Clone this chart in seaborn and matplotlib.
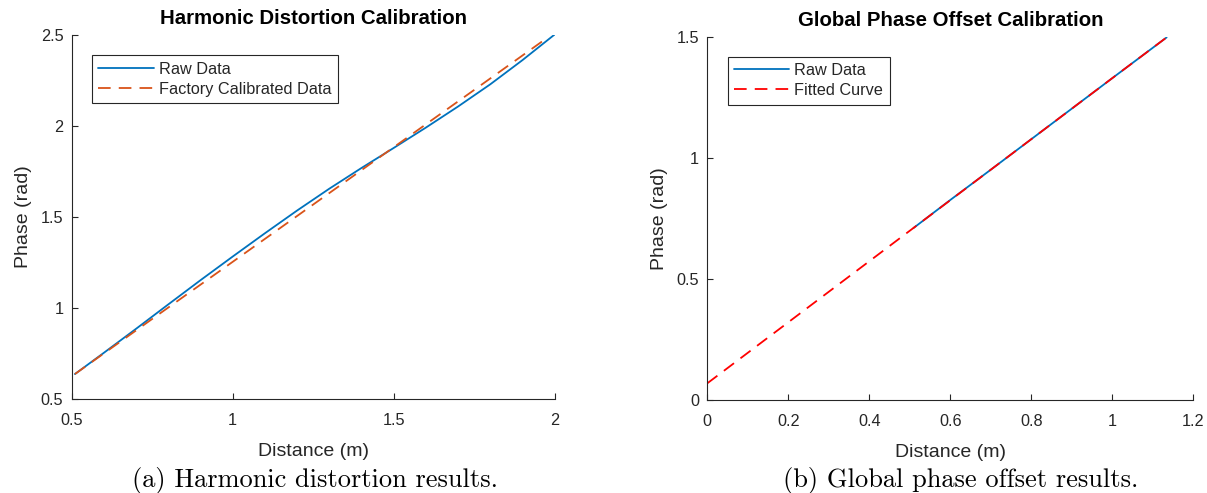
import matplotlib
matplotlib.use("Agg")
import matplotlib.pyplot as plt
import seaborn as sns
import pandas as pd

# ---- data ----
hd_raw_x = [0.51, 0.60, 0.70, 0.80, 0.90, 1.00, 1.10, 1.20, 1.30, 1.40, 1.50, 1.60, 1.70, 1.80, 1.90, 2.00]
hd_raw_y = [0.637, 0.754, 0.886, 1.020, 1.153, 1.283, 1.411, 1.536, 1.656, 1.770, 1.880, 1.992, 2.108, 2.230, 2.363, 2.504]
hd_fac_x = [0.51, 0.75, 1.00, 1.25, 1.50, 1.75, 1.974]
hd_fac_y = [0.637, 0.940, 1.254, 1.569, 1.884, 2.199, 2.482]

gp_raw_x = [0.509, 0.60, 0.70, 0.80, 0.90, 1.00, 1.134]
gp_raw_y = [0.710, 0.826, 0.951, 1.077, 1.203, 1.329, 1.497]
gp_fit_x = [0.0, 0.25, 0.50, 0.75, 1.00, 1.134]
gp_fit_y = [0.069, 0.384, 0.699, 1.014, 1.329, 1.497]

left_xticks = [0.5, 1, 1.5, 2]
left_xticklabels = ["0.5", "1", "1.5", "2"]
left_yticks = [0.5, 1, 1.5, 2, 2.5]
left_yticklabels = ["0.5", "1", "1.5", "2", "2.5"]
right_xticks = [0, 0.2, 0.4, 0.6, 0.8, 1.0, 1.2]
right_xticklabels = ["0", "0.2", "0.4", "0.6", "0.8", "1", "1.2"]
right_yticks = [0, 0.5, 1, 1.5]
right_yticklabels = ["0", "0.5", "1", "1.5"]

titles = ["Harmonic Distortion Calibration", "Global Phase Offset Calibration"]
captions = ["(a) Harmonic distortion results.", "(b) Global phase offset results."]

BLUE = "#0072BD"
ORANGE = "#D95319"
RED = "#FF0000"
AXC = "#262626"

sns.set_theme(style="ticks")
plt.rcParams["font.family"] = ["Liberation Sans", "DejaVu Sans"]
plt.rcParams.update({
    "axes.edgecolor": AXC,
    "axes.linewidth": 0.8,
    "xtick.color": AXC,
    "ytick.color": AXC,
    "xtick.direction": "in",
    "ytick.direction": "in",
})

fig = plt.figure(figsize=(12.07, 4.93), dpi=100)
ax1 = fig.add_axes([0.0594, 0.1907, 0.4002, 0.738])
ax2 = fig.add_axes([0.586, 0.1886, 0.4027, 0.737])

dash = (0, (7.0, 4.5))
lw = 1.3

df_hr = pd.DataFrame({"x": hd_raw_x, "y": hd_raw_y})
df_hf = pd.DataFrame({"x": hd_fac_x, "y": hd_fac_y})
sns.lineplot(data=df_hr, x="x", y="y", ax=ax1, color=BLUE, lw=lw, sort=False,
             estimator=None, label="Raw Data")
sns.lineplot(data=df_hf, x="x", y="y", ax=ax1, color=ORANGE, lw=lw, sort=False,
             estimator=None, linestyle=dash, label="Factory Calibrated Data")

df_gr = pd.DataFrame({"x": gp_raw_x, "y": gp_raw_y})
df_gf = pd.DataFrame({"x": gp_fit_x, "y": gp_fit_y})
sns.lineplot(data=df_gr, x="x", y="y", ax=ax2, color=BLUE, lw=lw, sort=False,
             estimator=None, label="Raw Data")
sns.lineplot(data=df_gf, x="x", y="y", ax=ax2, color=RED, lw=lw, sort=False,
             estimator=None, linestyle=dash, label="Fitted Curve")

tick_fs = 11.7
label_fs = 14.0
title_fs = 14.7

for ax, (xl, xt, xtl), (yl, yt, ytl), title in [
    (ax1, ((0.5, 2.0), left_xticks, left_xticklabels), ((0.5, 2.5), left_yticks, left_yticklabels), titles[0]),
    (ax2, ((0.0, 1.2), right_xticks, right_xticklabels), ((0.0, 1.5), right_yticks, right_yticklabels), titles[1]),
]:
    ax.set_xlim(*xl)
    ax.set_ylim(*yl)
    ax.set_xticks(xt)
    ax.set_xticklabels(xtl)
    ax.set_yticks(yt)
    ax.set_yticklabels(ytl)
    ax.tick_params(axis="both", labelsize=tick_fs, length=4, width=0.8)
    ax.tick_params(axis="x", pad=10)
    ax.tick_params(axis="y", pad=6)
    for s in ["top", "right"]:
        ax.spines[s].set_visible(False)
    ax.set_xlabel("Distance (m)", fontsize=label_fs, color=AXC, labelpad=11)
    ax.set_ylabel("Phase (rad)", fontsize=label_fs, color=AXC, labelpad=6)
    ax.set_title(title, fontsize=title_fs, fontweight="bold", color="black", pad=8)
    leg = ax.legend(loc="upper left", bbox_to_anchor=(0.042, 0.945), borderaxespad=0,
                    fontsize=tick_fs, frameon=True, fancybox=False, shadow=False,
                    handlelength=3.4, handletextpad=0.3, borderpad=0.4,
                    labelspacing=0.3)
    fr = leg.get_frame()
    fr.set_edgecolor(AXC)
    fr.set_linewidth(0.8)
    fr.set_alpha(1)

fig.text(0.261, 0.0122, captions[0], family="cmr10", fontsize=19, ha="center", va="baseline", color="black")
fig.text(0.796, 0.0122, captions[1], family="cmr10", fontsize=19, ha="center", va="baseline", color="black")

fig.savefig("out.png", dpi=100)
